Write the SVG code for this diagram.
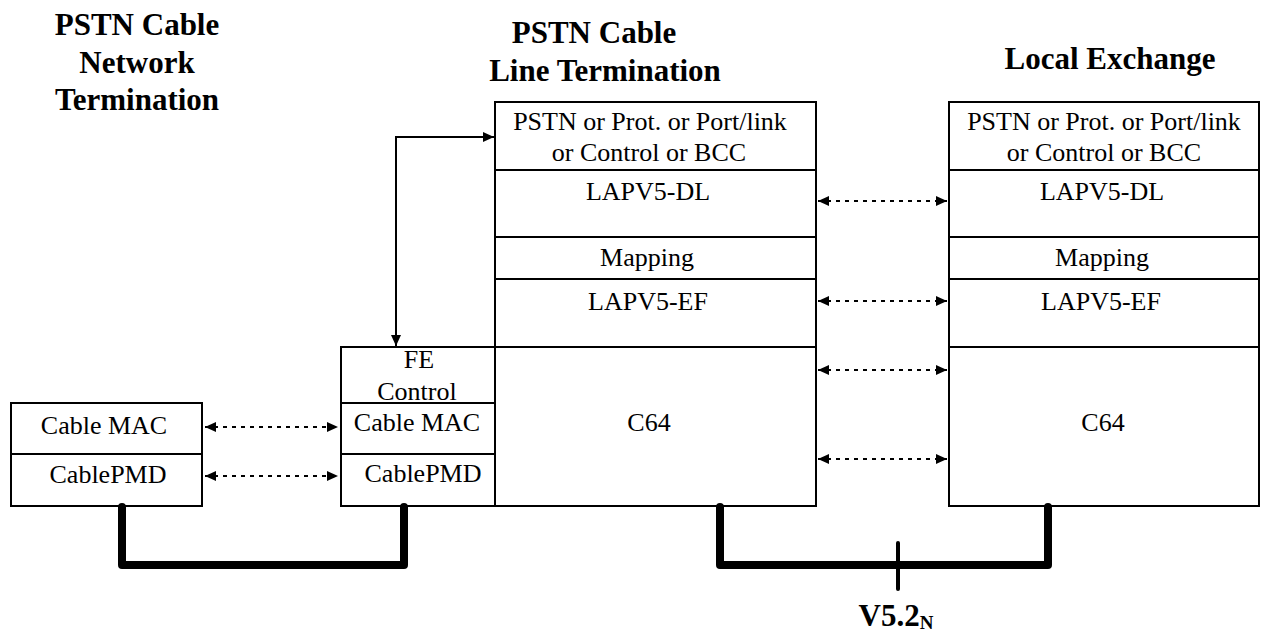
<svg xmlns="http://www.w3.org/2000/svg" width="1261" height="632" viewBox="0 0 1261 632">
<style>
.box{fill:none;stroke:#000;stroke-width:2}
.sep{stroke:#000;stroke-width:2}
text{font-family:'Liberation Serif','DejaVu Serif',serif;fill:#000;text-anchor:middle}
.t{font-size:26px}
.h{font-size:31px;font-weight:bold}
.dash{fill:none;stroke:#000;stroke-width:2;stroke-dasharray:4 5;marker-start:url(#ah);marker-end:url(#ah)}
.solid{fill:none;stroke:#000;stroke-width:2;marker-start:url(#ah);marker-end:url(#ah)}
.thick{fill:none;stroke:#000;stroke-width:8;stroke-linecap:round;stroke-linejoin:round}
</style>
<defs>
<marker id="ah" markerUnits="userSpaceOnUse" markerWidth="11" markerHeight="10" refX="11" refY="5" orient="auto-start-reverse">
<path d="M0,0 L11,5 L0,10 z" fill="#000"/>
</marker>
</defs>
<rect width="1261" height="632" fill="#fff"/>

<g id="title-nt">
<text class="h" x="137" y="35">PSTN Cable</text>
<text class="h" x="137" y="73">Network</text>
<text class="h" x="137" y="110">Termination</text>
</g>
<g id="title-lt">
<text class="h" x="594" y="43">PSTN Cable</text>
<text class="h" x="605" y="81">Line Termination</text>
</g>
<g id="title-le">
<text class="h" x="1110" y="69">Local Exchange</text>
</g>

<g id="nt-stack">
<rect class="box" x="11" y="403" width="191" height="103"/>
<line class="sep" x1="11" y1="454" x2="202" y2="454"/>
<text class="t" x="104" y="434">Cable MAC</text>
<text class="t" x="108" y="483">CablePMD</text>
</g>

<g id="fe-stack">
<rect class="box" x="341" y="347" width="154" height="159"/>
<line class="sep" x1="341" y1="403" x2="495" y2="403"/>
<line class="sep" x1="341" y1="454" x2="495" y2="454"/>
<text class="t" x="419" y="368">FE</text>
<text class="t" x="417" y="400">Control</text>
<text class="t" x="417" y="431">Cable MAC</text>
<text class="t" x="423" y="482">CablePMD</text>
</g>

<g id="lt-stack">
<rect class="box" x="495" y="102" width="321" height="404"/>
<line class="sep" x1="495" y1="170" x2="816" y2="170"/>
<line class="sep" x1="495" y1="237" x2="816" y2="237"/>
<line class="sep" x1="495" y1="279" x2="816" y2="279"/>
<line class="sep" x1="495" y1="347" x2="816" y2="347"/>
<text class="t" x="650" y="130">PSTN or Prot. or Port/link</text>
<text class="t" x="649" y="161">or Control or BCC</text>
<text class="t" x="648" y="200">LAPV5-DL</text>
<text class="t" x="647" y="266">Mapping</text>
<text class="t" x="648" y="310">LAPV5-EF</text>
<text class="t" x="649" y="431">C64</text>
</g>

<g id="le-stack">
<rect class="box" x="949" y="102" width="310" height="404"/>
<line class="sep" x1="949" y1="170" x2="1259" y2="170"/>
<line class="sep" x1="949" y1="237" x2="1259" y2="237"/>
<line class="sep" x1="949" y1="279" x2="1259" y2="279"/>
<line class="sep" x1="949" y1="347" x2="1259" y2="347"/>
<text class="t" x="1104" y="130">PSTN or Prot. or Port/link</text>
<text class="t" x="1104" y="161">or Control or BCC</text>
<text class="t" x="1102" y="200">LAPV5-DL</text>
<text class="t" x="1102" y="266">Mapping</text>
<text class="t" x="1101" y="310">LAPV5-EF</text>
<text class="t" x="1103" y="431">C64</text>
</g>

<g id="connectors">
<path class="solid" d="M396,346 V137 H494"/>
<line class="dash" x1="205" y1="427" x2="338" y2="427"/>
<line class="dash" x1="205" y1="476" x2="338" y2="476"/>
<line class="dash" x1="818" y1="201" x2="947" y2="201"/>
<line class="dash" x1="818" y1="301" x2="947" y2="301"/>
<line class="dash" x1="818" y1="370" x2="947" y2="370"/>
<line class="dash" x1="818" y1="459" x2="947" y2="459"/>
<path class="thick" d="M122,507 V565 H404 V507"/>
<path class="thick" d="M720,507 V565 H1048 V507"/>
<line x1="898" y1="543" x2="898" y2="589" stroke="#000" stroke-width="4" stroke-linecap="round"/>
</g>

<g id="label-v52">
<text class="h" x="896" y="626">V5.2<tspan font-size="19" dy="3">N</tspan></text>
</g>
</svg>
